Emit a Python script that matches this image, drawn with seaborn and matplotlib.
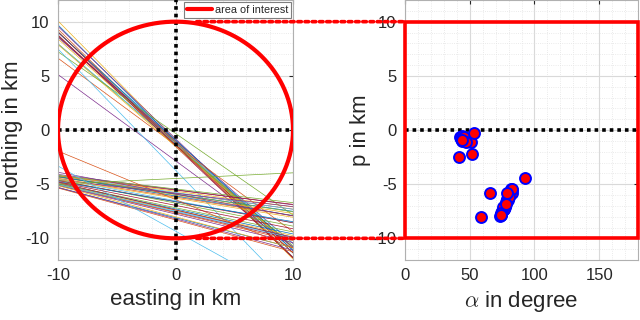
import numpy as np
import pandas as pd
import matplotlib
matplotlib.use("Agg")
import matplotlib.pyplot as plt
import seaborn as sns
from matplotlib.patches import ConnectionPatch, Rectangle
from matplotlib.ticker import MultipleLocator, FixedLocator

# Hough-space detections: angle alpha (degree) and distance p (km).
# Each detection is drawn as a point on the right and as the line
# x*cos(alpha) + y*sin(alpha) = p on the left.
alpha_deg = [
    # cluster near 45 degree
    43.0, 43.5, 42.3, 44.0, 44.4, 44.8, 45.0, 45.3, 45.6, 46.0, 46.4, 47.0,
    47.4, 44.2, 45.2, 51.3, 46.8, 51.5, 53.0, 41.8, 43.8,
    # cluster near 80 degree
    81.0, 81.5, 80.5, 82.0, 80.8, 81.2, 82.5, 79.8, 80.2, 81.8, 83.0, 82.8,
    76.4, 76.0, 77.0, 75.6, 76.8, 75.2, 77.4, 76.2, 75.8, 74.5, 73.6, 74.0, 73.8,
    78.0, 78.5, 79.0, 79.5, 65.9, 80.0, 78.6, 93.0, 59.0, 77.8,
]
p_km = [
    -0.70, -0.85, -0.62, -0.55, -0.80, -0.75, -0.95, -0.85, -0.78, -0.90, -0.70, -1.00,
    -0.93, -1.05, -0.65, -1.08, -1.10, -2.22, -0.25, -2.47, -0.95,
    -5.85, -5.75, -5.95, -5.45, -5.86, -5.70, -5.50, -6.00, -6.10, -5.60, -5.80, -5.40,
    -7.25, -7.35, -7.10, -7.40, -7.20, -7.50, -7.00, -7.30, -7.15, -7.80, -7.96, -7.70, -7.87,
    -6.60, -6.40, -6.50, -6.50, -5.86, -6.20, -5.80, -4.47, -8.00, -6.80,
]

aoi_radius = 10.0          # area of interest radius (km)
alpha_range = [0, 180]     # degree
easting_range = [-10, 10]
x_ticks_left = [-10, 0, 10]
y_ticks = [-10, -5, 0, 5, 10]
x_ticks_right = [0, 50, 100, 150]

matlab_colors = ["#0072BD", "#D95319", "#EDB120", "#7E2F8E",
                 "#77AC30", "#4DBEEE", "#A2142F"]

sns.set_theme(style="white")
plt.rcParams["font.family"] = ["Liberation Sans", "DejaVu Sans"]
plt.rcParams["mathtext.fontset"] = "cm"
plt.rcParams["axes.unicode_minus"] = False

fig = plt.figure(figsize=(6.4, 3.2), dpi=100)
ax1 = fig.add_axes([58 / 640, 60 / 320, 235 / 640, 260 / 320])
ax2 = fig.add_axes([405 / 640, 60 / 320, 233 / 640, 260 / 320])

# ---- left: lines in the easting/northing plane
xs = np.array(easting_range, dtype=float)
rows = []
for i, (a, p) in enumerate(zip(alpha_deg, p_km)):
    ar = np.deg2rad(a)
    for x in xs:
        rows.append({"id": f"L{i:03d}", "x": x,
                     "y": (p - x * np.cos(ar)) / np.sin(ar)})
df_lines = pd.DataFrame(rows)
palette = [matlab_colors[i % len(matlab_colors)] for i in range(len(alpha_deg))]
sns.lineplot(data=df_lines, x="x", y="y", hue="id", palette=palette,
             legend=False, linewidth=0.5, estimator=None, sort=False, ax=ax1)

dot = (0, (1, 1.1))
ax1.axhline(0, color="black", lw=2.6, ls=dot, zorder=4)
ax1.axvline(0, color="black", lw=2.6, ls=dot, zorder=4)

theta = np.linspace(0, 2 * np.pi, 400)
ax1.plot(aoi_radius * np.cos(theta), aoi_radius * np.sin(theta),
         color="red", lw=3.0, label="area of interest", zorder=5)

ax1.set_xlim(-10, 10)
ax1.set_ylim(-12, 12)
ax1.xaxis.set_major_locator(FixedLocator(x_ticks_left))
ax1.xaxis.set_minor_locator(MultipleLocator(2))
ax1.set_xlabel("easting in km", fontsize=16, labelpad=4)
ax1.set_ylabel("northing in km", fontsize=16, labelpad=2)

leg = ax1.legend(loc="upper right", fontsize=7.8, handlelength=2.3,
                 handletextpad=0.3, borderpad=0.25, borderaxespad=0.2,
                 frameon=True, fancybox=False, framealpha=1)
leg.get_frame().set_edgecolor("#7f7f7f")
leg.get_frame().set_linewidth(0.8)
leg.set_zorder(10)

# ---- right: Hough space
ax2.axhline(0, color="black", lw=2.6, ls=dot, zorder=4)
ax2.add_patch(Rectangle((alpha_range[0], -aoi_radius),
                        alpha_range[1] - alpha_range[0], 2 * aoi_radius,
                        fill=False, edgecolor="red", lw=2.6, zorder=5,
                        clip_on=False))
sns.scatterplot(x=alpha_deg, y=p_km, s=62, color="red", edgecolor="blue",
                linewidth=1.4, ax=ax2, zorder=6, legend=False)
ax2.set_xlim(alpha_range)
ax2.set_ylim(-12, 12)
ax2.xaxis.set_major_locator(FixedLocator(x_ticks_right))
ax2.xaxis.set_minor_locator(MultipleLocator(10))
ax2.set_xlabel(r"$\alpha$ in degree", fontsize=16, labelpad=4)
ax2.set_ylabel("p in km", fontsize=16, labelpad=1)

for ax in (ax1, ax2):
    ax.yaxis.set_major_locator(FixedLocator(y_ticks))
    ax.yaxis.set_minor_locator(MultipleLocator(1))
    ax.set_axisbelow(True)
    ax.grid(which="major", color="#d9d9d9", lw=0.8, ls="-")
    ax.grid(which="minor", color="#e3e3e3", lw=0.6, ls=":")
    ax.tick_params(which="major", direction="in", top=True, right=True,
                   length=3, width=0.8, color="#262626", labelsize=12,
                   pad=6, labelcolor="#262626")
    ax.tick_params(which="minor", length=0)
    for s in ax.spines.values():
        s.set_color("#b0b0b0")
        s.set_linewidth(0.8)
    ax.xaxis.label.set_color("#262626")
    ax.yaxis.label.set_color("#262626")

# ---- connectors between the area of interest and the Hough window
for yv in (aoi_radius, -aoi_radius):
    con = ConnectionPatch(xyA=(1.8, yv), coordsA=ax1.transData,
                          xyB=(alpha_range[0], yv), coordsB=ax2.transData,
                          color="red", lw=2.6, ls=(0, (1, 1)), zorder=3)
    fig.add_artist(con)

fig.savefig("out.png", dpi=100)
